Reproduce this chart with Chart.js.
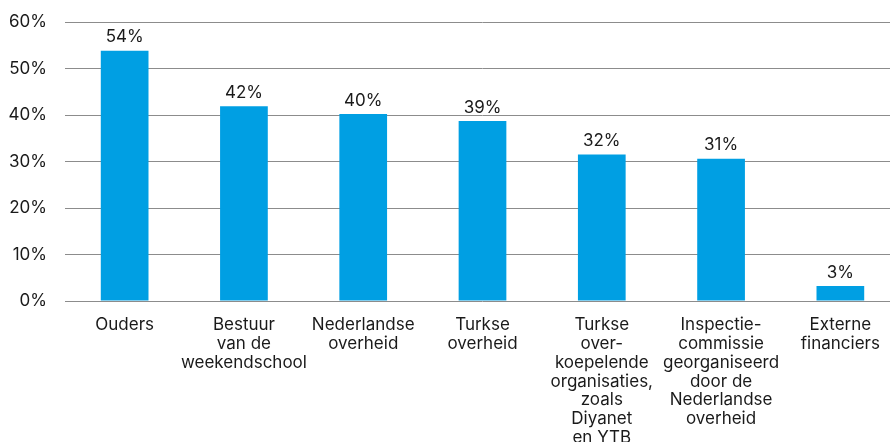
<!DOCTYPE html>
<html>
<head>
<meta charset="utf-8">
<script src="https://cdn.jsdelivr.net/npm/chart.js@4"></script>
<style>
  html, body { margin: 0; padding: 0; background: #fff; overflow: hidden; }
  #wrap { width: 900px; height: 442px; }
</style>
</head>
<body>
<div id="wrap"><canvas id="chart"></canvas></div>
<script>
// ===== DATA =====
const categories = [
  ['Ouders'],
  ['Bestuur', 'van de', 'weekendschool'],
  ['Nederlandse', 'overheid'],
  ['Turkse', 'overheid'],
  ['Turkse', 'over-', 'koepelende', 'organisaties,', 'zoals', 'Diyanet', 'en YTB'],
  ['Inspectie-', 'commissie', 'georganiseerd', 'door de', 'Nederlandse', 'overheid'],
  ['Externe', 'financiers']
];
const shares = [53.8, 41.9, 40.2, 38.7, 31.5, 30.6, 3.2];
const yTicks = [0, 10, 20, 30, 40, 50, 60];

const FONT = 'Inter, "Open Sans", sans-serif';

// ===== PLUGIN: value labels above bars =====
const valueLabels = {
  id: 'valueLabels',
  afterDatasetsDraw(chart) {
    const ctx = chart.ctx;
    const meta = chart.getDatasetMeta(0);
    ctx.save();
    ctx.font = '17px ' + FONT;
    ctx.fillStyle = '#1a1a1a';
    ctx.textAlign = 'center';
    ctx.textBaseline = 'bottom';
    meta.data.forEach((bar, i) => {
      ctx.fillText(Math.round(shares[i]) + '%', bar.x, bar.y - 5);
    });
    ctx.restore();
  }
};

new Chart(document.getElementById('chart'), {
  type: 'bar',
  data: {
    labels: categories,
    datasets: [{
      data: shares,
      backgroundColor: '#009fe3',
      barPercentage: 0.4,
      categoryPercentage: 1
    }]
  },
  options: {
    responsive: true,
    maintainAspectRatio: false,
    animation: false,
    layout: { padding: { top: 22, right: 0, left: 0, bottom: 0 } },
    plugins: {
      legend: { display: false },
      tooltip: { enabled: false }
    },
    scales: {
      x: {
        afterFit: axis => {
          axis.height = 141;
          axis.paddingLeft = 0;
          axis.paddingRight = 0;
        },
        grid: { display: false, drawTicks: false },
        border: { display: false },
        ticks: {
          font: { size: 17, family: FONT, lineHeight: 1.1 },
          color: '#1a1a1a',
          padding: 15,
          maxRotation: 0,
          autoSkip: false
        }
      },
      y: {
        min: 0,
        max: 60,
        afterBuildTicks: axis => { axis.ticks = yTicks.map(v => ({ value: v })); },
        afterFit: axis => {
          axis.width = 65;
          axis.paddingTop = 0;
          axis.paddingBottom = 0;
        },
        grid: { color: '#8c8c8c', lineWidth: 1, drawTicks: false },
        border: { display: false },
        ticks: {
          font: { size: 17, family: FONT },
          color: '#1a1a1a',
          padding: 18,
          callback: v => v + '%'
        }
      }
    }
  },
  plugins: [valueLabels]
});
</script>
</body>
</html>
